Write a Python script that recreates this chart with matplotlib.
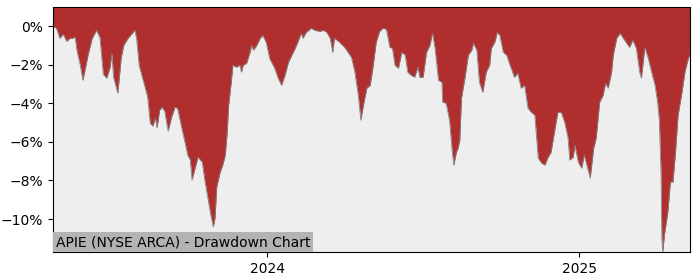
#!/usr/bin/env python3
import datetime
import matplotlib
matplotlib.use("Agg")
import matplotlib.pyplot as plt
import matplotlib.dates as mdates
from matplotlib.ticker import PercentFormatter

# drawdown series
start_date = datetime.date(2023, 4, 25)
day_offsets = [0, 4, 8, 12, 16, 20, 23, 26, 28, 32, 35, 38, 41, 46, 51, 55, 59, 63, 67, 69,
               71, 76, 80, 83, 88, 94, 96, 98, 101, 105, 108, 111, 114, 117, 120, 122, 125, 128, 131, 135,
               139, 143, 146, 151, 155, 158, 161, 163, 166, 170, 175, 178, 182, 185, 188, 190, 192, 196, 199, 202,
               204, 206, 209, 211, 215, 219, 221, 223, 227, 231, 233, 235, 239, 243, 246, 250, 254, 260, 264, 268,
               272, 276, 280, 284, 287, 291, 293, 297, 303, 307, 313, 317, 321, 325, 328, 330, 336, 342, 346, 350,
               354, 358, 361, 364, 368, 372, 375, 379, 383, 387, 391, 395, 398, 401, 405, 409, 413, 416, 420, 424,
               428, 430, 434, 438, 442, 445, 448, 452, 456, 457, 461, 465, 468, 470, 473, 475, 477, 479, 483, 487,
               491, 493, 497, 500, 504, 508, 512, 514, 518, 521, 524, 528, 532, 536, 539, 541, 545, 549, 553, 557,
               561, 565, 569, 573, 577, 580, 584, 588, 592, 596, 600, 604, 606, 610, 612, 616, 620, 623, 626, 630,
               634, 637, 641, 645, 648, 651, 655, 657, 661, 665, 668, 672, 676, 680, 684, 688, 690, 694, 698, 702,
               706, 709, 711, 713, 714, 715, 717, 721, 724, 727, 730, 733, 737, 741, 745, 747]
drawdown = [0.0, -0.10, -0.62, -0.41, -0.78, -0.62, -0.62, -0.57, -1.24, -2.02, -2.80, -2.18, -1.50, -0.62, -0.21, -0.57, -2.49, -2.69, -2.12, -1.40,
            -2.64, -3.47, -1.61, -0.98, -0.62, -0.31, -0.21, -0.62, -2.02, -2.69, -3.16, -3.68, -5.03, -5.18, -4.77, -5.28, -4.35, -4.20, -4.40, -5.44,
            -4.72, -4.20, -4.25, -5.28, -6.06, -6.68, -6.94, -7.98, -7.46, -6.79, -7.05, -7.98, -9.02, -9.79, -10.41, -9.95, -8.34, -7.56, -7.20, -6.68,
            -5.65, -4.09, -2.90, -2.02, -2.12, -2.02, -2.38, -2.02, -1.92, -1.35, -0.98, -1.24, -0.98, -0.62, -0.47, -0.83, -1.66, -2.18, -2.69, -3.06,
            -2.54, -1.87, -1.50, -1.14, -0.83, -0.36, -0.62, -0.31, -0.10, -0.21, -0.26, -0.21, -0.31, -0.62, -1.35, -0.62, -0.83, -1.09, -1.35, -1.61,
            -2.38, -3.58, -4.87, -4.09, -3.21, -3.06, -2.18, -0.83, -0.26, -0.10, -0.16, -1.09, -1.14, -2.02, -2.18, -1.35, -1.50, -2.38, -2.54, -2.64,
            -2.12, -2.64, -2.64, -1.35, -0.98, -0.36, -1.14, -2.80, -2.90, -3.94, -3.99, -4.87, -6.42, -7.20, -6.53, -6.32, -5.91, -3.73, -2.69, -1.50,
            -1.24, -0.88, -1.24, -2.90, -3.42, -2.38, -2.02, -1.14, -0.83, -0.31, -0.47, -1.35, -1.50, -2.02, -2.38, -2.64, -2.44, -3.21, -3.06, -4.25,
            -4.46, -4.61, -6.84, -7.10, -7.20, -6.84, -6.53, -5.49, -4.46, -4.46, -4.97, -5.80, -6.94, -6.79, -6.17, -7.05, -7.36, -6.68, -7.20, -7.88,
            -6.32, -5.80, -3.94, -3.58, -2.95, -3.21, -2.38, -1.50, -0.62, -0.36, -0.57, -0.83, -1.09, -0.72, -1.14, -2.38, -2.69, -1.09, -1.66, -2.38,
            -3.06, -3.94, -4.87, -7.56, -11.0, -11.71, -10.83, -9.64, -8.08, -8.08, -6.53, -4.61, -3.58, -2.38, -1.66, -1.50]

dates = [start_date + datetime.timedelta(days=d) for d in day_offsets]

label = "APIE (NYSE ARCA) - Drawdown Chart"
red = "#B02E2E"

fig = plt.figure(figsize=(7, 2.8), dpi=100)
ax = fig.add_axes([0.0757, 0.1, 0.91, 0.875])
ax.set_facecolor("#EEEEEE")

top = 1.0
ax.fill_between(dates, drawdown, top, color=red, linewidth=0)
ax.plot(dates, drawdown, color="gray", linewidth=0.6)

ax.set_ylim(min(drawdown), top)
ax.set_xlim(dates[0], dates[-1])
ax.set_yticks([0, -2, -4, -6, -8, -10])
ax.yaxis.set_major_formatter(PercentFormatter(100, decimals=0))
ax.xaxis.set_major_locator(mdates.YearLocator())
ax.xaxis.set_major_formatter(mdates.DateFormatter("%Y"))
ax.tick_params(labelsize=10)

ax.text(0.004, 0.012, label, transform=ax.transAxes, fontsize=10, ha="left", va="bottom",
        bbox=dict(facecolor="#B3B3B3", edgecolor="none", pad=2))

plt.savefig("out.png")
plt.close()
